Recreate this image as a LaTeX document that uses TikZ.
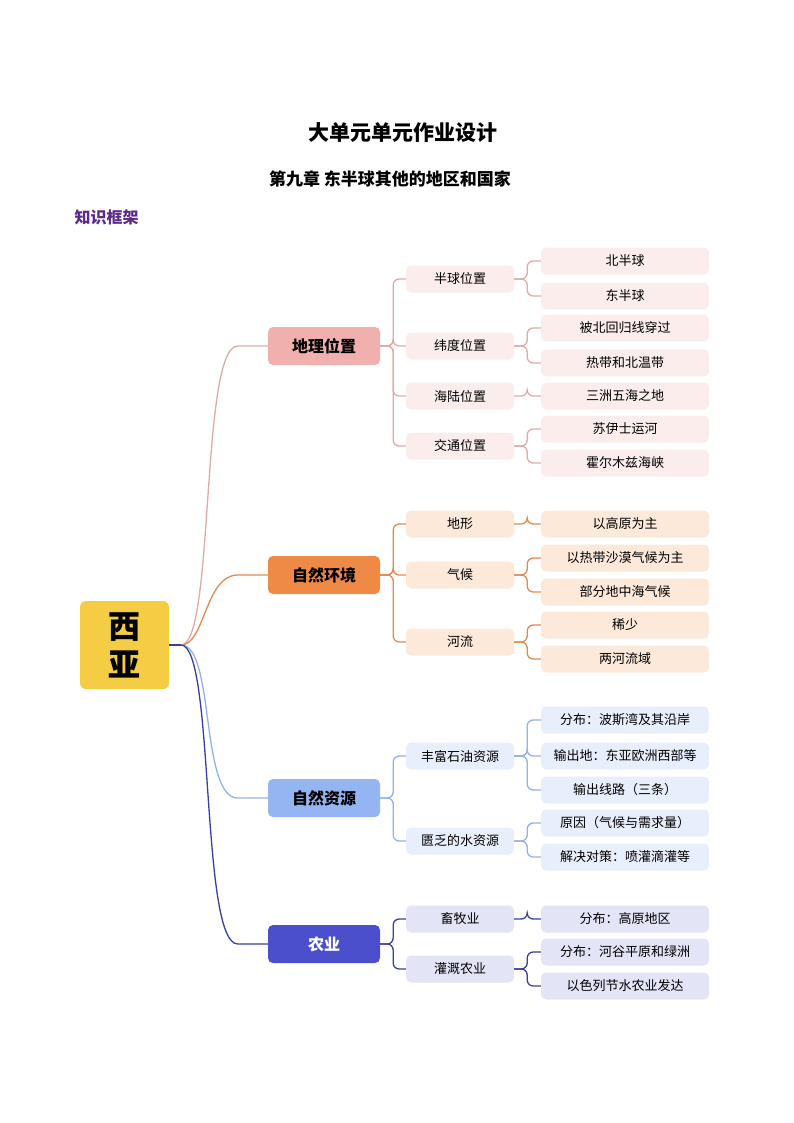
\documentclass[tikz,border=0pt]{standalone}
\usepackage{fontspec}
\setmainfont{Noto Sans CJK SC}
\begin{document}
\begin{tikzpicture}[x=1pt,y=-1pt,
 l1/.style={rounded corners=5pt,minimum width=112pt,minimum height=38pt,font=\fontsize{16}{18}\selectfont\bfseries,inner sep=0pt},
 l2/.style={rounded corners=5pt,minimum width=108pt,minimum height=27pt,font=\fontsize{13}{15}\selectfont,inner sep=0pt},
 l3/.style={rounded corners=5pt,minimum width=168pt,minimum height=27pt,font=\fontsize{13}{15}\selectfont,inner sep=0pt},
 ln/.style={line width=1.3pt,rounded corners=6pt}]
\definecolor{pA}{HTML}{F0B0AE}\definecolor{pB}{HTML}{FCEDED}\definecolor{pL}{HTML}{DDAAAA}
\definecolor{oA}{HTML}{EE8A45}\definecolor{oB}{HTML}{FCE9DA}\definecolor{oL}{HTML}{E08A4F}
\definecolor{bA}{HTML}{94B4F2}\definecolor{bB}{HTML}{E8EFFC}\definecolor{bL}{HTML}{93B0E8}
\definecolor{iA}{HTML}{4B4FCC}\definecolor{iB}{HTML}{E3E4F6}\definecolor{iL}{HTML}{3A3E9E}
\definecolor{yel}{HTML}{F5CD45}\definecolor{pur}{HTML}{5B2A8C}
\useasboundingbox (0,0) rectangle (794,1123);
\node (t1) at (403,133) {\fontsize{21}{24}\selectfont\bfseries 大单元单元作业设计};
\node (t2) at (390,179) {\fontsize{17}{20}\selectfont\bfseries 第九章 东半球其他的地区和国家};
\node[anchor=west,text=pur] (t3) at (71,217) {\fontsize{16}{18}\selectfont\bfseries 知识框架};
\node[fill=yel,rounded corners=6pt,minimum width=89pt,minimum height=88pt,align=center,font=\fontsize{32}{38}\selectfont\bfseries] (root) at (124.5,645) {西\\亚};
\coordinate (r) at (181,645);
\draw[iL,line width=1.3pt] (root.east) -- (r);
% level1
\node[l1,fill=pA] (g) at (324,346) {地理位置};
\node[l1,fill=oA] (z) at (324,575) {自然环境};
\node[l1,fill=bA] (s) at (324,798) {自然资源};
\node[l1,fill=iA,text=white] (n) at (324,944) {农业};
\draw[pL,line width=1.3pt] (r) .. controls (215,645) and (200,346) .. ([xshift=-30]g.west) -- (g.west);
\draw[oL,line width=1.3pt] (r) .. controls (205,645) and (205,575) .. ([xshift=-30]z.west) -- (z.west);
\draw[bL,line width=1.3pt] (r) .. controls (215,645) and (200,798) .. ([xshift=-30]s.west) -- (s.west);
\draw[iL,line width=1.3pt] (r) .. controls (215,645) and (200,944) .. ([xshift=-30]n.west) -- (n.west);
% level2 / level3
\foreach \nm/\y/\t/\f in {
 g1/279/半球位置/pB, g2/346/纬度位置/pB, g3/396/海陆位置/pB, g4/446/交通位置/pB,
 z1/524/地形/oB, z2/575/气候/oB, z3/642/河流/oB,
 s1/756/丰富石油资源/bB, s2/841/匮乏的水资源/bB,
 n1/919/畜牧业/iB, n2/969/灌溉农业/iB}{
 \node[l2,fill=\f] (\nm) at (460,\y) {\t};
}
\foreach \nm/\y/\t/\f in {
 a1/261/北半球/pB, a2/296/东半球/pB, a3/328/被北回归线穿过/pB, a4/363/热带和北温带/pB, a5/396/三洲五海之地/pB, a6/429/苏伊士运河/pB, a7/463/霍尔木兹海峡/pB,
 b1/524/以高原为主/oB, b2/558/以热带沙漠气候为主/oB, b3/592/部分地中海气候/oB, b4/625/稀少/oB, b5/659/两河流域/oB,
 c1/720/分布：波斯湾及其沿岸/bB, c2/756/输出地：东亚欧洲西部等/bB, c3/790/输出线路（三条）/bB, c4/823/原因（气候与需求量）/bB, c5/857/解决对策：喷灌滴灌等/bB,
 d1/919/分布：高原地区/iB, d2/952/分布：河谷平原和绿洲/iB, d3/986/以色列节水农业发达/iB}{
 \node[l3,fill=\f] (\nm) at (625,\y) {\t};
}
\foreach \a/\b/\c in {g/g1/pL,g/g2/pL,g/g3/pL,g/g4/pL,z/z1/oL,z/z2/oL,z/z3/oL,s/s1/bL,s/s2/bL,n/n1/iL,n/n2/iL,
 g1/a1/pL,g1/a2/pL,g2/a3/pL,g2/a4/pL,g3/a5/pL,g4/a6/pL,g4/a7/pL,
 z1/b1/oL,z2/b2/oL,z2/b3/oL,z3/b4/oL,z3/b5/oL,
 s1/c1/bL,s1/c2/bL,s1/c3/bL,s2/c4/bL,s2/c5/bL,
 n1/d1/iL,n2/d2/iL,n2/d3/iL}{
 \draw[ln,\c] (\a.east) -- ([xshift=13pt]\a.east) |- (\b.west);
}
\end{tikzpicture}
\end{document}
